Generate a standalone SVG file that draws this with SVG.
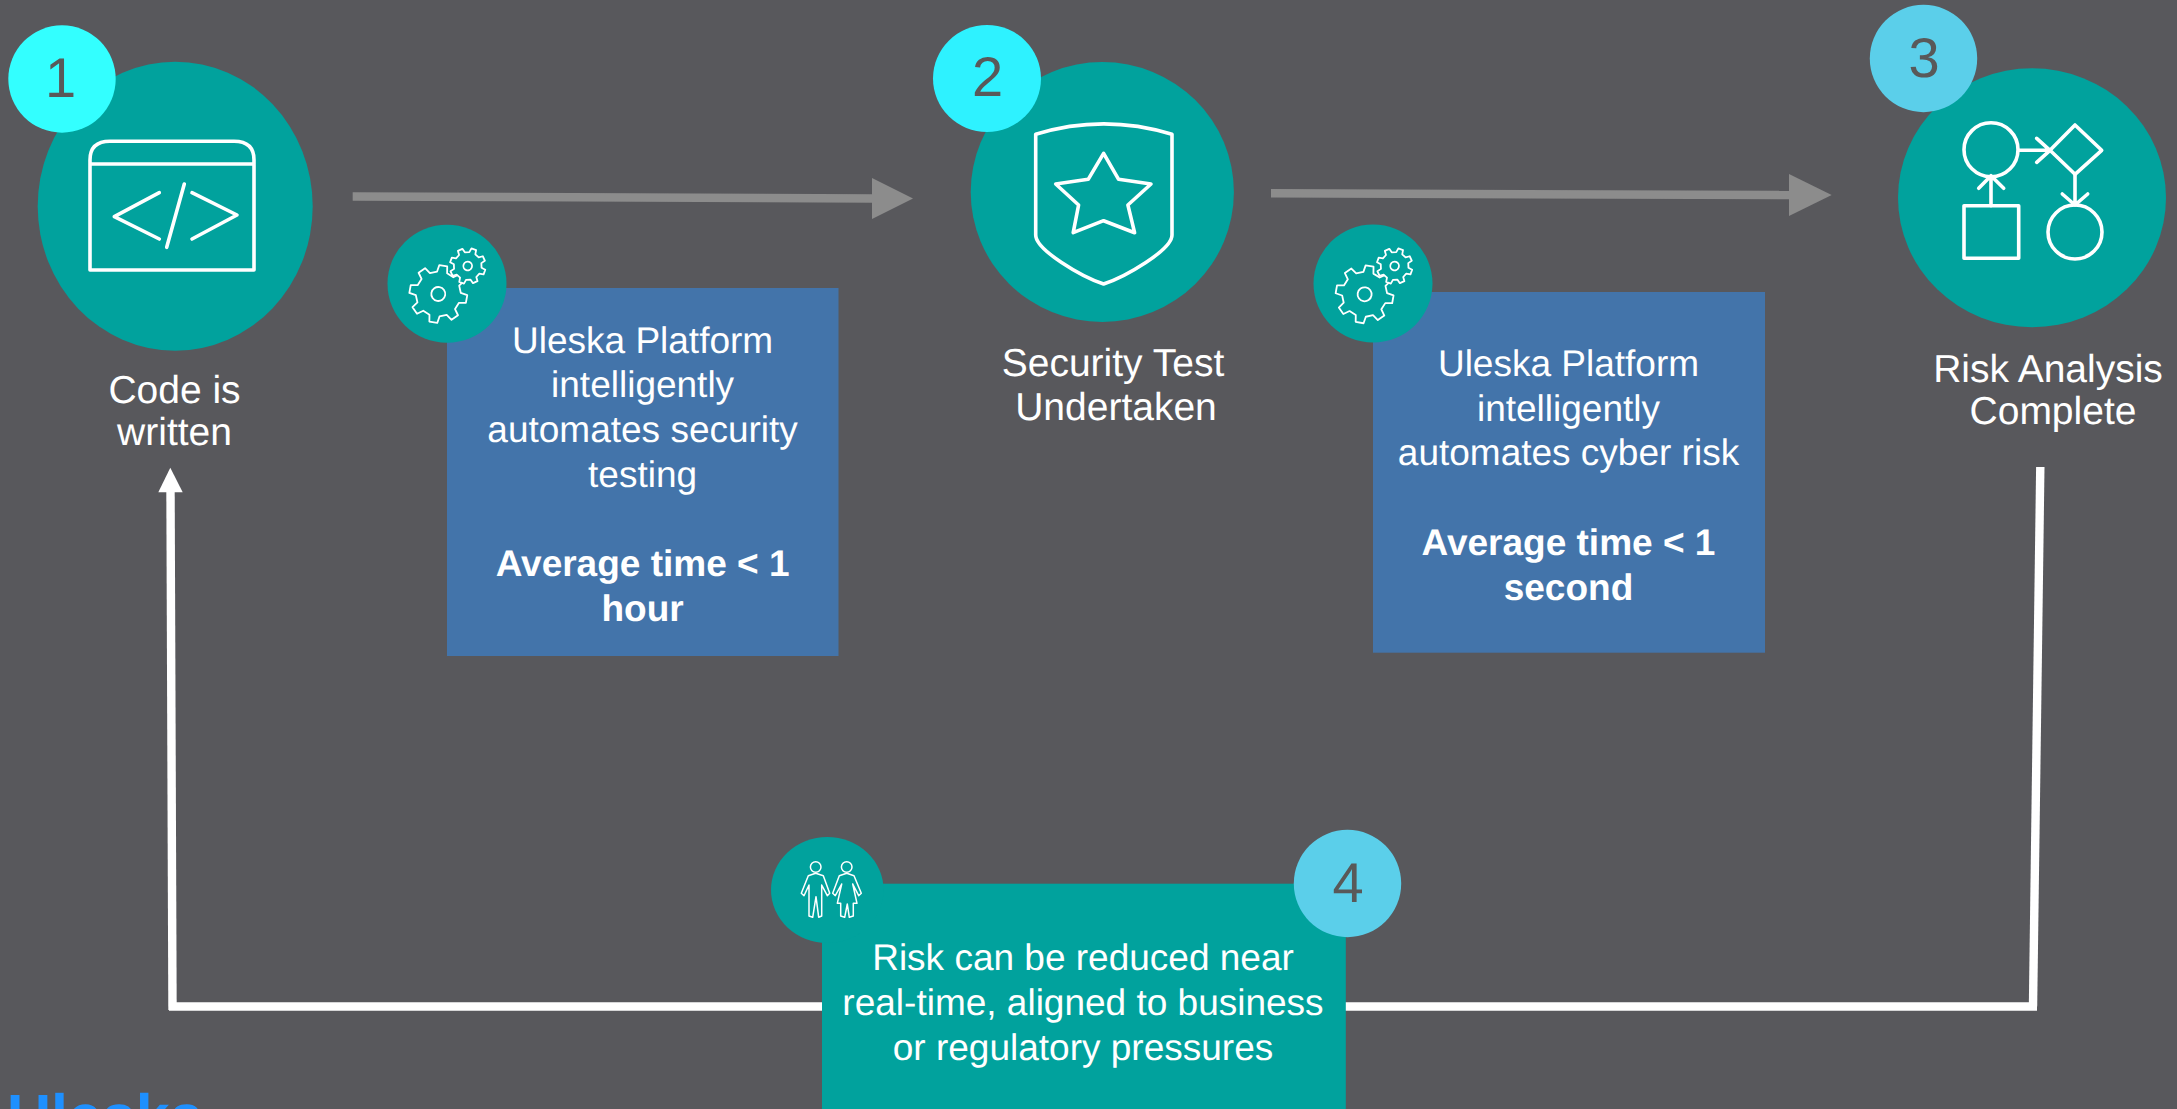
<svg xmlns="http://www.w3.org/2000/svg" width="2177" height="1109" viewBox="0 0 2177 1109">
<style>
text{font-family:"Liberation Sans",Arial,sans-serif;font-size:37px;fill:#fff;text-anchor:middle;text-rendering:geometricPrecision}
.l{font-size:39px}
.b{font-weight:bold}
.n{font-size:56px;fill:#595959}
.t{fill:#01a29d}
.box{fill:#4374aa}
.i{fill:none;stroke:#fff;stroke-width:3.6;stroke-linejoin:round;stroke-linecap:round}
.i2{fill:none;stroke:#fff;stroke-width:1.5;stroke-linejoin:round}
.g{fill:#01a29d;stroke:#fff;stroke-width:1.8;stroke-linejoin:round;vector-effect:non-scaling-stroke}
.gh{fill:none;stroke:#fff;stroke-width:1.8;vector-effect:non-scaling-stroke}
.gray{fill:none;stroke:#8c8c8c;stroke-width:8.5}
.white{fill:none;stroke:#fff;stroke-width:8.400}
</style>
<defs>
<g id="gear">
<polygon class="g" points="21.9,-5.1 28.7,-4 28.7,4 21.9,5.1 19.1,11.9 23.1,17.5 17.5,23.1 11.9,19.1 5.1,21.9 4,28.7 -4,28.7 -5.1,21.9 -11.9,19.1 -17.5,23.1 -23.1,17.5 -19.1,11.9 -21.9,5.1 -28.7,4 -28.7,-4 -21.9,-5.1 -19.1,-11.9 -23.1,-17.5 -17.5,-23.1 -11.9,-19.1 -5.1,-21.9 -4,-28.7 4,-28.7 5.1,-21.9 11.9,-19.1 17.5,-23.1 23.1,-17.5 19.1,-11.9"/>
<circle class="gh" r="7"/>
</g>
</defs>
<rect width="2177" height="1109" fill="#58585c"/>

<g id="connectors">
<path class="gray" d="M352.700 196.500L875 198.500"/>
<polygon points="872,178 913,198.500 872,219" fill="#8c8c8c"/>
<path class="gray" d="M1271 193.300L1792 195"/>
<polygon points="1789,174 1831.700,195 1789,216" fill="#8c8c8c"/>
<path class="white" d="M2040.300 467L2033 1006.500"/>
<path class="white" d="M2037 1006.500H169"/>
<path class="white" d="M172.500 1010L170.500 490"/>
<polygon points="158.300,492.300 170.300,467.700 182.700,492.300" fill="#fff"/>
</g>

<g id="node1">
<ellipse class="t" cx="175.200" cy="206.200" rx="137.500" ry="144.500"/>
<path class="i" d="M90 270V164V160Q90 141.300 110 141.300H234Q254 141.300 254 160V270ZM90 164H254"/>
<path class="i" d="M159.300 192.700L114.300 216.700L159.300 239M184.300 184L166.700 247.300M192 192.700L237 215L192 239"/>
<circle cx="62" cy="79" r="53.700" fill="#33ffff"/>
<text class="n" x="60.500" y="96.700">1</text>
<text class="l" x="174.500" y="402.700">Code is</text>
<text class="l" x="174.500" y="444.500">written</text>
</g>

<g id="box1">
<rect class="box" x="447" y="288" width="391.500" height="368"/>
<ellipse class="t" cx="447" cy="283.700" rx="59.500" ry="59"/>
<use href="#gear" transform="translate(438.300 294) rotate(10)"/>
<use href="#gear" transform="translate(467.700 266) rotate(20) scale(.62)"/>
<text x="642.600" y="352.500">Uleska Platform</text>
<text x="642.600" y="397">intelligently</text>
<text x="642.600" y="442">automates security</text>
<text x="642.600" y="486.500">testing</text>
<text class="b" x="642.600" y="576">Average time &lt; 1</text>
<text class="b" x="642.600" y="620.500">hour</text>
</g>

<g id="node2">
<ellipse class="t" cx="1102.300" cy="192" rx="131.600" ry="130"/>
<path class="i" d="M1035.700 134.300Q1103.600 113.500 1172 134.300V235C1172 250 1125 277 1103.600 284C1082 277 1035.700 250 1035.700 235Z"/>
<polygon class="i" points="1103.600,153.300 1118.600,179.300 1151,184 1127.900,205 1134.600,232.700 1103.600,220.700 1073.200,232.700 1078.600,205 1055.700,184 1088.200,179.300"/>
<ellipse cx="987" cy="78.500" rx="54" ry="53.500" fill="#2ef2ff"/>
<text class="n" x="987.500" y="95.700">2</text>
<text class="l" x="1113" y="376">Security Test</text>
<text class="l" x="1116" y="419.500">Undertaken</text>
</g>

<g id="box2">
<rect class="box" x="1373" y="292" width="392" height="360.700"/>
<ellipse class="t" cx="1373" cy="283.500" rx="59.500" ry="59"/>
<use href="#gear" transform="translate(1364.600 294.300) rotate(10)"/>
<use href="#gear" transform="translate(1394.600 266) rotate(20) scale(.62)"/>
<text x="1568.500" y="376">Uleska Platform</text>
<text x="1568.500" y="420.700">intelligently</text>
<text x="1568.500" y="465.400">automates cyber risk</text>
<text class="b" x="1568.500" y="554.800">Average time &lt; 1</text>
<text class="b" x="1568.500" y="599.500">second</text>
</g>

<g id="node3">
<ellipse class="t" cx="2032" cy="197.800" rx="134" ry="129.500"/>
<g class="i">
<circle cx="1991" cy="149.700" r="27"/>
<path d="M2019 150.300H2050M2036.700 138.300L2050 150.300L2036.700 162.300"/>
<polygon points="2075,125 2101.700,150.300 2075,174.300 2050,150.300"/>
<path d="M2075 174.300V205M2062.300 194L2075 205L2087.700 194"/>
<circle cx="2075" cy="232" r="27"/>
<rect x="1964" y="205.700" width="54.700" height="52.600"/>
<path d="M1991 205.700V175.700M1978.700 188.300L1991 175.700L2003.700 188.300"/>
</g>
<circle cx="1923.500" cy="58.500" r="53.700" fill="#5bcfea"/>
<text class="n" x="1924" y="77">3</text>
<text class="l" x="2048" y="381.700">Risk Analysis</text>
<text class="l" x="2053" y="424">Complete</text>
</g>

<g id="node4">
<rect class="t" x="822" y="883.700" width="523.800" height="226"/>
<ellipse class="t" cx="827.300" cy="890" rx="56.300" ry="53"/>
<g class="i2">
<circle cx="815.700" cy="867" r="5.300"/>
<circle cx="846.700" cy="867" r="5.300"/>
<polygon points="815.700,873.300 823.300,875.700 829.700,893.300 827.300,895.700 821.700,885 821.700,916 818.700,917.300 816,896.700 812.700,917.300 809,916 809,885 804,895.700 801.300,893.300 808.300,875.700"/>
<polygon points="846.700,873.300 854,875.700 861.300,893.300 858.700,895.700 852.700,884 857,903.300 853.300,903.300 853.300,916 849.300,917.300 847.300,904 844.700,917.300 840.700,916 840.700,903.300 837.300,903.300 841.700,884 835.300,895.700 832.700,893.300 839.300,875.700"/>
</g>
<circle cx="1347.500" cy="883.500" r="53.700" fill="#5bcfea"/>
<text class="n" x="1348" y="902">4</text>
<text x="1083" y="970">Risk can be reduced near</text>
<text x="1083" y="1014.700">real-time, aligned to business</text>
<text x="1083" y="1059.500">or regulatory pressures</text>
</g>

<text id="logo" x="7" y="1136.500" style="text-anchor:start;font-size:61px;font-weight:bold;fill:#1e90ff">Uleska</text>
</svg>
